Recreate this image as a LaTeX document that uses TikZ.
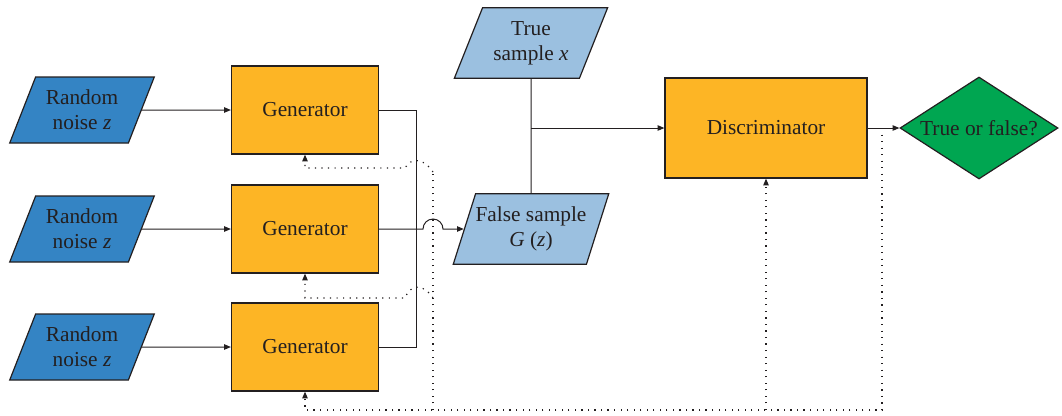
\documentclass[tikz,border=0pt]{standalone}
\usepackage{fontspec}
\setmainfont{Liberation Serif}
\usetikzlibrary{shapes.geometric,arrows.meta}
\definecolor{noiseblue}{HTML}{3484C4}
\definecolor{sampleblue}{HTML}{9BC0E0}
\definecolor{genorange}{HTML}{FDB525}
\definecolor{judgegreen}{HTML}{00A651}
\definecolor{ink}{HTML}{231F20}
\begin{document}
\begin{tikzpicture}[x=0.75pt,y=-0.75pt,
	every node/.style={text=ink,font=\fontsize{16}{19}\selectfont,align=center},
	para/.style={draw=ink,line width=0.9pt,trapezium,trapezium left angle=63.4,trapezium right angle=116.6,trapezium stretches=true,inner sep=0pt},
	noise/.style={para,fill=noiseblue,minimum width=108.75pt,minimum height=49.5pt},
	sample/.style={para,fill=sampleblue,minimum width=116pt,minimum height=53pt},
	box/.style={draw=ink,line width=0.9pt,fill=genorange,rectangle},
	gen/.style={box,minimum width=110.25pt,minimum height=66pt},
	link/.style={draw=ink,line width=0.75pt},
	fb/.style={draw=ink,line width=0.9pt,dash pattern=on 0.9pt off 4pt},
	>={Triangle[length=5pt,width=4pt]}]
			\useasboundingbox (0,0) rectangle (1062,415);

			\draw (82,110) node (noise1)[noise]{Random\\noise \textit{z}};
			\draw (82,229) node (noise2)[noise]{Random\\noise \textit{z}};
			\draw (82,347) node (noise3)[noise]{Random\\noise \textit{z}};
			\draw (305,110) node (gen1)[gen]{Generator};
			\draw (305,229) node (gen2)[gen]{Generator};
			\draw (305,347) node (gen3)[gen]{Generator};
			\draw[->,link] (noise1)--(gen1);
			\draw[->,link] (noise2)--(gen2);
			\draw[->,link] (noise3)--(gen3);

			\draw (531,43) node (truesample)[sample]{True\\sample \textit{x}};
			\draw (531,229) node (falsesample)[sample]{False sample\\\textit{G} (\textit{z})};
			\draw (766,128) node (disc)[box,minimum width=151.5pt,minimum height=75pt]{Discriminator};
			\draw (979,128) node (judge)[diamond,aspect=1.55,draw=ink,line width=0.9pt,fill=judgegreen,inner sep=0pt,minimum width=118.5pt,minimum height=76.5pt]{True or false?};

			\coordinate (bus) at (416,347);
			\coordinate (hop) at (423,229);
			\coordinate (join) at (531,128);
			\draw[link] (gen1.east) -| (bus) -- (gen3.east);
			\draw[->,link] (gen2.east) -- (hop) arc[start angle=180,end angle=360,radius=10] -- (falsesample);
			\draw[link] (truesample)--(falsesample);
			\draw[->,link] (join)--(disc);
			\draw[->,link] (disc)--(judge);

			\coordinate (fbtop) at (882,128);
			\coordinate (fbr) at (882,410);
			\coordinate (fbl) at (305,410);
			\coordinate (v1) at (433,172);
			\coordinate (v2) at (433,298);
			\coordinate (vb) at (433,410);
			\draw[->,fb] (fbtop)--(fbr)--(fbl)--(gen3.south);
			\draw[->,fb] (disc.south |- fbr)--(disc.south);
			\draw[fb] (vb)--(v1);
			\draw[->,fb] (v1) .. controls (424,158) and (411,157) .. (405,168) -| (gen1.south);
			\draw[->,fb] (v2) .. controls (424,284) and (411,283) .. (405,298) -| (gen2.south);
		\end{tikzpicture}
\end{document}
